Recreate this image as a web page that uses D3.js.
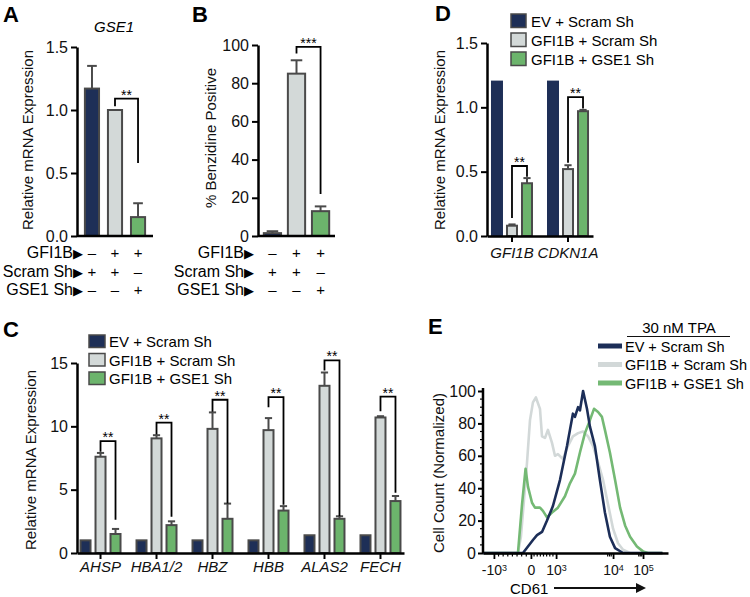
<!DOCTYPE html>
<html><head><meta charset="utf-8">
<script src="https://cdn.jsdelivr.net/npm/d3@7"></script>
<style>body{margin:0;background:#fff}svg{display:block}</style>
</head><body><svg id="c" width="750" height="597"></svg>
<script>
// ---------------- DATA ----------------
const seriesNames = ["EV + Scram Sh", "GFI1B + Scram Sh", "GFI1B + GSE1 Sh"];
// Panel A (GSE1 mRNA)
const aValues = [1.17, 1.0, 0.15];
const aErr = [1.35, 1.0, 0.26];
const aTicks = [0, 0.5, 1.0, 1.5];
const aBracket = [1.09, 1.03, 0.58]; // top, left leg end, right leg end
// Panel B (% benzidine positive)
const bValues = [1.5, 85, 13];
const bErr = [2.5, 92, 15.5];
const bTicks = [0, 20, 40, 60, 80, 100];
const bBracket = [99, 95.5, 22];
// condition table under A and B
const conditionRows = ["GFI1B", "Scram Sh", "GSE1 Sh"];
const conditionSigns = [["–", "+", "+"], ["+", "+", "–"], ["–", "–", "+"]];
// Panel C
const cGenes = ["AHSP", "HBA1/2", "HBZ", "HBB", "ALAS2", "FECH"];
const cEV = [1, 1, 1, 1, 1.4, 1.4];
const cGS = [7.6, 9.05, 9.8, 9.7, 13.2, 10.7];
const cGSErr = [7.9, 9.3, 11.1, 10.65, 14.25, 10.8];
const cGG = [1.5, 2.2, 2.7, 3.35, 2.7, 4.1];
const cGGErr = [1.9, 2.5, 3.9, 3.7, 2.9, 4.5];
const cBrTop = [8.84, 10.3, 12.1, 12.3, 15.2, 12.35];
const cBrLeft = [8.0, 9.35, 11.15, 11.5, 14.4, 11.2];
const cBrRight = [2.63, 2.87, 3.9, 3.8, 2.9, 4.75];
const cTicks = [0, 5, 10, 15];
// Panel D
const dGenes = ["GFI1B", "CDKN1A"];
const dEV = [1.2, 1.2];
const dGS = [0.08, 0.52];
const dGSErr = [0.09, 0.55];
const dGG = [0.41, 0.97];
const dGGErr = [0.45, 0.98];
const dBrTop = [0.544, 1.08];
const dBrLeft = [0.14, 0.57];
const dBrRight = [0.46, 0.99];
const dTicks = [0, 0.5, 1.0, 1.5];
// Panel E (flow histograms, x in display channel units 0-100)
const evX = [0, 20.0, 21.6, 24.3, 27.0, 29.2, 31.9, 34.6, 37.8, 41.6, 45.4, 47.0, 48.6, 49.7, 51.4, 52.4, 54.1, 56.2, 57.8, 60.5, 63.2, 65.9, 68.6, 71.4, 75.7, 97];
const evY = [0, 0, 0, 4, 8, 11, 13, 20, 29, 45, 66, 76, 86, 84, 90, 88, 100, 89, 78, 66, 45, 25, 10, 3, 0, 0];
const gsX = [0, 18.9, 20.5, 21.6, 23.8, 25.4, 27.0, 28.6, 30.8, 31.9, 33.5, 35.1, 37.3, 38.9, 40.5, 43.2, 45.9, 48.6, 51.4, 54.1, 56.8, 59.5, 62.2, 64.9, 67.6, 70.3, 73.0, 75.7, 79.5, 97];
const gsY = [0, 0, 10, 25, 56, 82, 93, 96, 89, 72, 71, 76, 68, 60, 61, 58, 66, 72, 74, 75, 72, 66, 56, 45, 30, 15, 6, 2, 0, 0];
const ggX = [0, 18.9, 21.1, 23.0, 24.3, 26.5, 28.1, 30.8, 32.4, 34.6, 37.3, 40.5, 44.3, 47.0, 49.7, 52.4, 55.1, 57.8, 60.0, 62.2, 64.3, 65.9, 68.6, 71.4, 74.1, 76.8, 79.5, 83.2, 86.5, 89.2, 97];
const ggY = [0, 0, 30, 52, 41, 31, 28, 28, 26, 22, 25, 28, 35, 43, 49, 62, 74, 82, 89, 87, 84, 76, 62, 45, 28, 17, 10, 4, 1, 0, 0];
const eYTicks = [0, 20, 40, 60, 80, 100];
const eYMinor = [5, 10, 15, 25, 30, 35, 45, 50, 55, 65, 70, 75, 85, 90, 95];
const eXTicks = [5.9, 25.9, 39.5, 70.3, 86.5];
const eXTickBase = ["-10", "0", "10", "10", "10"];
const eXTickExp = ["3", "", "3", "4", "5"];
const eXMinor = [8.4, 10.9, 13.4, 15.9, 18.4, 20.9, 23.4, 27.6, 29.3, 31.0, 32.7, 34.4, 36.1, 37.8, 67.4, 68.4, 69.3, 84.2, 85.0, 85.8];

// ---------------- STYLE ----------------
const FONT = "Arial, 'Liberation Sans', Helvetica, sans-serif";
const colors = ["#1e2f57", "#d3d9d8", "#6cb46c"];
const lineColors = ["#1c2e58", "#d2d8d8", "#74b974"];
const EDGE = "#4a4a4a";
const svg = d3.select("#c").style("font-family", FONT);

function yAxis(scale, x, ticks, fmt) {
  const ax = svg.append("g").attr("transform", `translate(${x},0)`)
    .call(d3.axisLeft(scale).tickValues(ticks).tickFormat(fmt).tickSize(6).tickSizeOuter(0).tickPadding(3));
  ax.select(".domain").attr("stroke", "#000").attr("stroke-width", 2.5);
  ax.selectAll(".tick line").attr("stroke", "#000").attr("stroke-width", 2);
  ax.selectAll(".tick text").attr("font-size", 16).attr("fill", "#111").attr("font-family", FONT);
  return ax;
}
function yTitle(text, x, y) {
  svg.append("text").attr("transform", `translate(${x},${y}) rotate(-90)`)
    .attr("text-anchor", "middle").attr("font-size", 15).attr("fill", "#111").text(text);
}
function panelLetter(t, x, y) {
  svg.append("text").attr("x", x).attr("y", y).attr("font-size", 22).attr("font-weight", "bold").text(t);
}
function baseline(x0, x1, y) {
  svg.append("line").attr("x1", x0).attr("x2", x1).attr("y1", y).attr("y2", y)
    .attr("stroke", "#000").attr("stroke-width", 2.5);
}
function drawBars(data, y) {
  const g = svg.append("g");
  g.selectAll("rect").data(data).join("rect")
    .attr("x", d => d.x + 1).attr("width", d => d.w - 2)
    .attr("y", d => y(d.v)).attr("height", d => y(0) - y(d.v))
    .attr("fill", d => d.fill).attr("stroke", d => d.edge ? EDGE : d.fill).attr("stroke-width", 2);
  const e = data.filter(d => d.err > d.v);
  g.selectAll("line.v").data(e).join("line")
    .attr("x1", d => d.x + d.w / 2).attr("x2", d => d.x + d.w / 2)
    .attr("y1", d => y(d.v)).attr("y2", d => y(d.err)).attr("stroke", EDGE).attr("stroke-width", 2);
  g.selectAll("line.c").data(e).join("line")
    .attr("x1", d => d.x + d.w * 0.2).attr("x2", d => d.x + d.w * 0.8)
    .attr("y1", d => y(d.err)).attr("y2", d => y(d.err)).attr("stroke", EDGE).attr("stroke-width", 2);
}
function bracket(xl, xr, y, top, left, right, stars) {
  svg.append("path").attr("d", `M${xl},${y(left)}V${y(top)}H${xr}V${y(right)}`)
    .attr("fill", "none").attr("stroke", "#000").attr("stroke-width", 1.8);
  svg.append("text").attr("x", (xl + xr) / 2).attr("y", y(top) + 1).attr("text-anchor", "middle")
    .attr("font-size", 14).text(stars);
}
function conditionTable(xScale, rightEdge, yTop) {
  conditionRows.forEach((r, i) => {
    const yy = yTop + i * 18.5;
    const t = svg.append("text").attr("x", rightEdge).attr("y", yy).attr("text-anchor", "end").attr("font-size", 16);
    t.append("tspan").text(r);
    t.append("tspan").attr("font-size", 13).text("▶");
    conditionSigns[i].forEach((s, j) => {
      svg.append("text").attr("x", xScale(j) + xScale.bandwidth() / 2).attr("y", yy)
        .attr("text-anchor", "middle").attr("font-size", 15).text(s);
    });
  });
}

// ---------------- PANEL A ----------------
panelLetter("A", 3, 22);
const yA = d3.scaleLinear().domain([0, 1.5]).range([236, 47]);
const xA = d3.scaleBand().domain([0, 1, 2]).range([77, 153]).paddingInner(0.3).paddingOuter(0.3);
drawBars(aValues.map((v, i) => ({ x: xA(i), w: xA.bandwidth(), v, err: aErr[i], fill: colors[i], edge: true })), yA);
yAxis(yA, 77, aTicks, d3.format(".1f"));
baseline(77, 153, yA(0));
yTitle("Relative mRNA Expression", 33, 140);
svg.append("text").attr("x", 114).attr("y", 32).attr("text-anchor", "middle").attr("font-size", 15)
  .attr("font-style", "italic").text("GSE1");
bracket(xA(1) + xA.bandwidth() / 2, xA(2) + xA.bandwidth() / 2, yA, aBracket[0], aBracket[1], aBracket[2], "**");
conditionTable(xA, 83, 258);

// ---------------- PANEL B ----------------
panelLetter("B", 192, 22);
const yB = d3.scaleLinear().domain([0, 100]).range([236, 45]);
const xB = d3.scaleBand().domain([0, 1, 2]).range([258, 335]).paddingInner(0.2).paddingOuter(0.2);
drawBars(bValues.map((v, i) => ({ x: xB(i), w: xB.bandwidth(), v, err: bErr[i], fill: colors[i], edge: true })), yB);
yAxis(yB, 258, bTicks, d3.format("d"));
baseline(258, 335, yB(0));
yTitle("% Benzidine Positive", 216, 138);
bracket(xB(1) + xB.bandwidth() / 2, xB(2) + xB.bandwidth() / 2, yB, bBracket[0], bBracket[1], bBracket[2], "***");
conditionTable(xB, 254, 258);

// ---------------- PANEL C ----------------
panelLetter("C", 3, 337);
const yC = d3.scaleLinear().domain([0, 15]).range([553, 363]);
const xC = d3.scaleBand().domain(cGenes).range([77, 404]).paddingInner(0.25).paddingOuter(0.045);
const xCi = d3.scaleBand().domain([0, 1, 2]).range([0, xC.bandwidth()]).paddingInner(0.2).paddingOuter(0);
const cBars = [];
cGenes.forEach((g, i) => {
  cBars.push({ x: xC(g) + xCi(0), w: xCi.bandwidth(), v: cEV[i], err: 0, fill: colors[0], edge: true });
  cBars.push({ x: xC(g) + xCi(1), w: xCi.bandwidth(), v: cGS[i], err: cGSErr[i], fill: colors[1], edge: true });
  cBars.push({ x: xC(g) + xCi(2), w: xCi.bandwidth(), v: cGG[i], err: cGGErr[i], fill: colors[2], edge: true });
});
drawBars(cBars, yC);
yAxis(yC, 77, cTicks, d3.format("d"));
const axC = svg.append("g").attr("transform", `translate(0,${yC(0)})`)
  .call(d3.axisBottom(xC).tickSize(6).tickSizeOuter(0).tickPadding(2));
axC.select(".domain").attr("stroke", "#000").attr("stroke-width", 2.5);
axC.selectAll(".tick line").attr("stroke", "#000").attr("stroke-width", 2);
axC.selectAll(".tick text").attr("font-size", 15).attr("font-style", "italic").attr("fill", "#111").attr("font-family", FONT);
yTitle("Relative mRNA Expression", 36, 460);
cGenes.forEach((g, i) => {
  bracket(xC(g) + xCi(1) + xCi.bandwidth() / 2, xC(g) + xCi(2) + xCi.bandwidth() / 2, yC,
    cBrTop[i], cBrLeft[i], cBrRight[i], "**");
});
seriesNames.forEach((n, i) => {
  const yy = 335 + i * 18.5;
  svg.append("rect").attr("x", 89).attr("y", yy).attr("width", 16).attr("height", 12.5)
    .attr("fill", colors[i]).attr("stroke", EDGE).attr("stroke-width", 1.5);
  svg.append("text").attr("x", 109).attr("y", yy + 12).attr("font-size", 15).text(n);
});

// ---------------- PANEL D ----------------
panelLetter("D", 435, 21);
const yD = d3.scaleLinear().domain([0, 1.5]).range([236, 43]);
const xD = d3.scaleBand().domain(dGenes).range([487, 593]).paddingInner(0.25).paddingOuter(0.071);
const xDi = d3.scaleBand().domain([0, 1, 2]).range([0, xD.bandwidth()]).paddingInner(0.2).paddingOuter(0);
const dBars = [];
dGenes.forEach((g, i) => {
  dBars.push({ x: xD(g) + xDi(0), w: xDi.bandwidth(), v: dEV[i], err: 0, fill: colors[0], edge: false });
  dBars.push({ x: xD(g) + xDi(1), w: xDi.bandwidth(), v: dGS[i], err: dGSErr[i], fill: colors[1], edge: true });
  dBars.push({ x: xD(g) + xDi(2), w: xDi.bandwidth(), v: dGG[i], err: dGGErr[i], fill: colors[2], edge: true });
});
drawBars(dBars, yD);
yAxis(yD, 487, dTicks, d3.format(".1f"));
const axD = svg.append("g").attr("transform", `translate(0,${yD(0)})`)
  .call(d3.axisBottom(xD).tickSize(6).tickSizeOuter(0).tickPadding(5));
axD.select(".domain").attr("stroke", "#000").attr("stroke-width", 2.5);
axD.selectAll(".tick line").attr("stroke", "#000").attr("stroke-width", 2);
axD.selectAll(".tick text").attr("font-size", 15).attr("font-style", "italic").attr("fill", "#111").attr("font-family", FONT);
yTitle("Relative mRNA Expression", 445, 140);
dGenes.forEach((g, i) => {
  bracket(xD(g) + xDi(1) + xDi.bandwidth() / 2, xD(g) + xDi(2) + xDi.bandwidth() / 2, yD,
    dBrTop[i], dBrLeft[i], dBrRight[i], "**");
});
seriesNames.forEach((n, i) => {
  const yy = 14 + i * 19;
  svg.append("rect").attr("x", 511).attr("y", yy).attr("width", 15).attr("height", 13.5)
    .attr("fill", colors[i]).attr("stroke", EDGE).attr("stroke-width", 1.5);
  svg.append("text").attr("x", 531).attr("y", yy + 12.5).attr("font-size", 15).text(n);
});

// ---------------- PANEL E ----------------
panelLetter("E", 428, 334);
const xE = d3.scaleLinear().domain([0, 100]).range([483, 668]);
const yE = d3.scaleLinear().domain([0, 100]).range([553, 391]);
const line = d3.line().x(d => xE(d[0])).y(d => yE(d[1]));
const curves = [
  { xs: gsX, ys: gsY, c: lineColors[1] },
  { xs: ggX, ys: ggY, c: lineColors[2] },
  { xs: evX, ys: evY, c: lineColors[0] }
];
curves.forEach(cv => {
  svg.append("path").datum(cv.xs.map((x, i) => [x, cv.ys[i]])).attr("d", line)
    .attr("fill", "none").attr("stroke", cv.c).attr("stroke-width", 2.6).attr("stroke-linejoin", "round");
});
const axEY = svg.append("g").attr("transform", `translate(483,0)`)
  .call(d3.axisLeft(yE).tickValues(eYTicks).tickSize(5).tickSizeOuter(0).tickPadding(2));
axEY.select(".domain").attr("stroke", "#000").attr("stroke-width", 2.5).attr("d", `M0,${yE(0)}V${yE(100) - 3}`);
axEY.selectAll(".tick line").attr("stroke", "#000").attr("stroke-width", 2);
axEY.selectAll(".tick text").attr("font-size", 16).attr("fill", "#111").attr("font-family", FONT);
svg.append("g").selectAll("line").data(eYMinor).join("line")
  .attr("x1", 480).attr("x2", 483).attr("y1", d => yE(d)).attr("y2", d => yE(d))
  .attr("stroke", "#000").attr("stroke-width", 1.2);
const axEX = svg.append("g").attr("transform", `translate(0,${yE(0)})`)
  .call(d3.axisBottom(xE).tickValues(eXTicks).tickSize(6).tickSizeOuter(0).tickPadding(6).tickFormat(""));
axEX.select(".domain").attr("stroke", "#000").attr("stroke-width", 2.5);
axEX.selectAll(".tick line").attr("stroke", "#000").attr("stroke-width", 1.8);
axEX.selectAll(".tick text").each(function (d, i) {
  const t = d3.select(this).attr("font-size", 14).attr("fill", "#111").attr("font-family", FONT);
  t.text(null);
  t.append("tspan").text(eXTickBase[i]);
  if (eXTickExp[i]) t.append("tspan").attr("dy", "-0.45em").attr("font-size", 9).text(eXTickExp[i]);
});
svg.append("g").selectAll("line").data(eXMinor).join("line")
  .attr("x1", d => xE(d)).attr("x2", d => xE(d)).attr("y1", yE(0)).attr("y2", yE(0) + 3.5)
  .attr("stroke", "#000").attr("stroke-width", 1.2);
yTitle("Cell Count (Normalized)", 444, 473);
svg.append("text").attr("x", 510).attr("y", 594).attr("font-size", 15).text("CD61");
svg.append("line").attr("x1", 554).attr("x2", 638).attr("y1", 588).attr("y2", 588).attr("stroke", "#111").attr("stroke-width", 1.8);
svg.append("path").attr("d", "M646,588L636,583L636,593Z").attr("fill", "#111");
svg.append("text").attr("x", 679).attr("y", 333).attr("text-anchor", "middle").attr("font-size", 15).text("30 nM TPA");
svg.append("line").attr("x1", 627).attr("x2", 730).attr("y1", 336.5).attr("y2", 336.5).attr("stroke", "#111").attr("stroke-width", 1.2);
seriesNames.forEach((n, i) => {
  const yy = 346 + i * 18.5;
  svg.append("line").attr("x1", 598).attr("x2", 622).attr("y1", yy).attr("y2", yy)
    .attr("stroke", lineColors[i]).attr("stroke-width", 5);
  svg.append("text").attr("x", 625).attr("y", yy + 5.5).attr("font-size", 14.5).text(n);
});
</script></body></html>
